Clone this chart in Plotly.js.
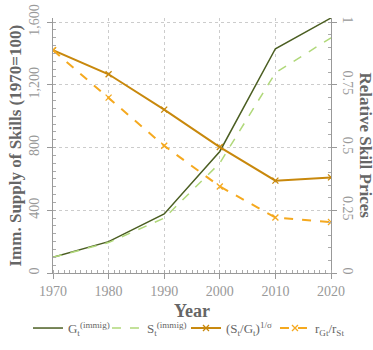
<!DOCTYPE html>
<html>
<head>
<meta charset="utf-8">
<script src="https://cdn.plot.ly/plotly-3.0.1.min.js"></script>
<style>html,body{margin:0;padding:0;background:#fff;}#chart{width:373px;height:350px;}</style>
</head>
<body>
<div id="chart"></div>
<script>
const years = [1970, 1980, 1990, 2000, 2010, 2020];
const supplyG = [100, 200, 377, 775, 1430, 1626];
const supplyS = [100, 194, 350, 701, 1276, 1500];
const priceSG = [0.888, 0.792, 0.651, 0.502, 0.368, 0.381];
const priceR = [0.888, 0.699, 0.507, 0.345, 0.221, 0.203];
const names = ['G<sub>t</sub><sup>(immig)</sup>', 'S<sub>t</sub><sup>(immig)</sup>', '(S<sub>t</sub>/G<sub>t</sub>)<sup>1/σ</sup>', 'r<sub>Gt</sub>/r<sub>St</sub>'];

const serif = 'Liberation Serif, Times New Roman, serif';
const yMax = Math.max(...supplyG);
const traces = [
  {x: years, y: supplyG, name: names[0], mode: 'lines', legendwidth: 34, line: {color: '#4b5e22', width: 1.5}},
  {x: years, y: supplyS, name: names[1], mode: 'lines', legendwidth: 34, line: {color: '#b0d87a', width: 1.5, dash: 'dash'}},
  {x: years, y: priceSG, name: names[2], yaxis: 'y2', mode: 'lines+markers', legendwidth: 44, line: {color: '#c8880c', width: 2},
   marker: {symbol: 'x-thin', size: 6, line: {color: '#c8880c', width: 1.3}}},
  {x: years, y: priceR, name: names[3], yaxis: 'y2', mode: 'lines+markers', legendwidth: 30, line: {color: '#f5a91f', width: 2, dash: 'dash'},
   marker: {symbol: 'x-thin', size: 6, line: {color: '#f5a91f', width: 1.3}}}
];
const tickFont = {family: serif, size: 14, color: '#999'};
const titleFont = {family: serif, size: 17, color: '#666', weight: 'bold'};
const layout = {
  width: 373, height: 350,
  margin: {l: 53, r: 42, t: 18, b: 77, autoexpand: false},
  paper_bgcolor: '#fff', plot_bgcolor: '#fff',
  showlegend: true,
  legend: {orientation: 'h', x: -0.09, xanchor: 'left', y: -0.216, yanchor: 'middle',
           font: {family: serif, size: 13, color: '#666'}, itemwidth: 30, tracegroupgap: 0},
  xaxis: {range: [1970, 2020], dtick: 10, tick0: 1970, showline: true, linecolor: '#999', linewidth: 1,
          ticks: 'outside', ticklen: 5, tickcolor: '#999', tickfont: tickFont,
          showgrid: true, gridcolor: '#ccc', griddash: 'dot', gridwidth: 1, zeroline: false,
          minor: {dtick: 1, ticks: 'inside', ticklen: 3, tickcolor: '#aaa', showgrid: false}},
  yaxis: {range: [0, yMax], dtick: 400, tick0: 0, tickformat: ',', tickangle: -90, ticklabelstandoff: 2,
          showline: true, linecolor: '#999', linewidth: 1, ticks: 'outside', ticklen: 5, tickcolor: '#999',
          tickfont: tickFont, showgrid: true, gridcolor: '#ccc', griddash: 'dot', gridwidth: 1, zeroline: false,
          minor: {dtick: 50, ticks: 'inside', ticklen: 3, tickcolor: '#aaa', showgrid: false}},
  yaxis2: {range: [0, yMax / 1600], dtick: 0.25, tick0: 0, overlaying: 'y', side: 'right', tickangle: 90,
           showline: true, linecolor: '#999', linewidth: 1, ticks: 'outside', ticklen: 5, tickcolor: '#999',
           tickfont: tickFont, showgrid: false, zeroline: false,
           minor: {dtick: 0.05, ticks: 'inside', ticklen: 3, tickcolor: '#aaa', showgrid: false}},
  annotations: [
    {text: 'Imm. Supply of Skills (1970=100)', xref: 'paper', yref: 'paper', x: 0, xshift: -38, y: 0.5,
     xanchor: 'center', yanchor: 'middle', textangle: -90, showarrow: false, font: titleFont},
    {text: 'Relative Skill Prices', xref: 'paper', yref: 'paper', x: 1, xshift: 34, y: 0.5,
     xanchor: 'center', yanchor: 'middle', textangle: 90, showarrow: false, font: titleFont},
    {text: 'Year', xref: 'paper', yref: 'paper', x: 0.5, y: 0, yshift: -38,
     xanchor: 'center', yanchor: 'middle', showarrow: false, font: {family: serif, size: 18, color: '#666', weight: 'bold'}}
  ]
};
Plotly.newPlot('chart', traces, layout, {displayModeBar: false, staticPlot: true});
</script>
</body>
</html>
